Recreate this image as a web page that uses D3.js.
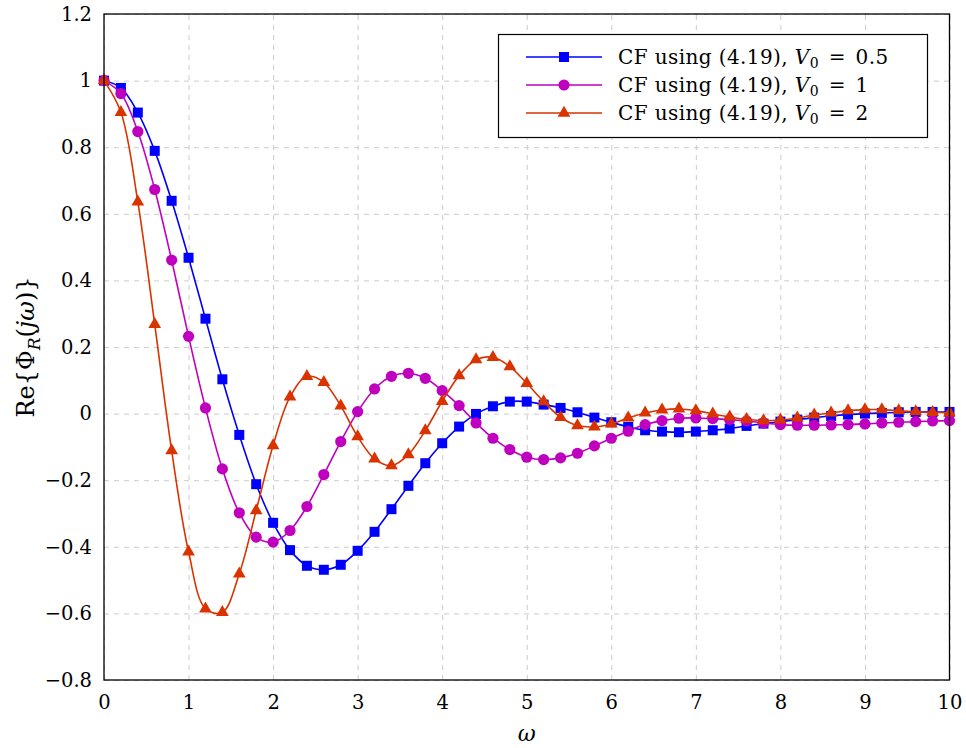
<!DOCTYPE html>
<html>
<head>
<meta charset="utf-8">
<script src="https://cdn.jsdelivr.net/npm/d3@7/dist/d3.min.js"></script>
<style>
  html, body { margin: 0; padding: 0; background: #fff; }
  svg { display: block; }
  text { font-family: "DejaVu Serif", "Liberation Serif", serif; fill: #000; }
</style>
</head>
<body>
<svg id="chart" width="966" height="748"></svg>
<script>
// Angular frequency samples
const omega = [0, 0.2, 0.4, 0.6, 0.8, 1, 1.2, 1.4, 1.6, 1.8, 2, 2.2, 2.4, 2.6, 2.8, 3, 3.2, 3.4, 3.6, 3.8,
  4, 4.2, 4.4, 4.6, 4.8, 5, 5.2, 5.4, 5.6, 5.8, 6, 6.2, 6.4, 6.6, 6.8, 7, 7.2, 7.4, 7.6, 7.8,
  8, 8.2, 8.4, 8.6, 8.8, 9, 9.2, 9.4, 9.6, 9.8, 10];

// Real part of the characteristic function for each V0
const cfV05 = [1.0, 0.978, 0.904, 0.789, 0.639, 0.468, 0.285, 0.103, -0.064, -0.212, -0.328, -0.41, -0.457, -0.469, -0.454,
  -0.412, -0.355, -0.287, -0.217, -0.149, -0.089, -0.039, -0.001, 0.022, 0.036, 0.036, 0.027, 0.017, 0.004, -0.012,
  -0.026, -0.04, -0.05, -0.054, -0.056, -0.054, -0.05, -0.045, -0.037, -0.03, -0.024, -0.018, -0.012, -0.007, -0.003,
  0.0, 0.002, 0.004, 0.005, 0.005, 0.005];

const cfV1 = [1.0, 0.961, 0.847, 0.673, 0.461, 0.232, 0.017, -0.166, -0.298, -0.371, -0.386, -0.351, -0.279, -0.183, -0.084,
  0.006, 0.074, 0.112, 0.121, 0.106, 0.069, 0.024, -0.028, -0.074, -0.108, -0.131, -0.138, -0.133, -0.119, -0.097,
  -0.074, -0.053, -0.033, -0.021, -0.014, -0.013, -0.015, -0.018, -0.022, -0.028, -0.033, -0.035, -0.035, -0.034, -0.033,
  -0.031, -0.028, -0.026, -0.024, -0.022, -0.021];

const cfV2 = [1.0, 0.905, 0.636, 0.268, -0.111, -0.415, -0.586, -0.597, -0.481, -0.291, -0.096, 0.05, 0.112, 0.094, 0.023,
  -0.069, -0.136, -0.156, -0.123, -0.051, 0.037, 0.114, 0.162, 0.169, 0.141, 0.091, 0.036, -0.011, -0.036, -0.04,
  -0.031, -0.013, 0.002, 0.011, 0.014, 0.009, -0.001, -0.01, -0.017, -0.021, -0.019, -0.013, -0.004, 0.002, 0.009,
  0.012, 0.012, 0.009, 0.006, 0.004, 0.002];

const xTicks = [0, 1, 2, 3, 4, 5, 6, 7, 8, 9, 10];
const yTicks = [-0.8, -0.6, -0.4, -0.2, 0, 0.2, 0.4, 0.6, 0.8, 1, 1.2];
const legendValues = ["0.5", "1", "2"];

const series = [
  { values: cfV05, color: "#0000ff", marker: "square", v0: legendValues[0] },
  { values: cfV1,  color: "#bf00bf", marker: "circle", v0: legendValues[1] },
  { values: cfV2,  color: "#d93300", marker: "triangle", v0: legendValues[2] }
];

const W = 966, H = 748;
const margin = { left: 104, right: 16.5, top: 14, bottom: 68 };
const innerW = W - margin.left - margin.right;
const innerH = H - margin.top - margin.bottom;
const FONT = "DejaVu Serif, serif";

const svg = d3.select("#chart");
const g = svg.append("g").attr("transform", `translate(${margin.left},${margin.top})`);

const x = d3.scaleLinear().domain([0, 10]).range([0, innerW]);
const y = d3.scaleLinear().domain([-0.8, 1.2]).range([innerH, 0]);

// Dashed grid
const gridStyle = sel => {
  sel.select(".domain").remove();
  sel.selectAll("text").remove();
  sel.selectAll("line").attr("stroke", "#cccccc").attr("stroke-width", 1).attr("stroke-dasharray", "5,5");
};
g.append("g").attr("transform", `translate(0,${innerH})`)
  .call(d3.axisBottom(x).tickValues(xTicks).tickSize(-innerH)).call(gridStyle);
g.append("g")
  .call(d3.axisLeft(y).tickValues(yTicks).tickSize(-innerW)).call(gridStyle);

// Tick labels
const fmt = d3.format("~g");
const xAxis = g.append("g").attr("transform", `translate(0,${innerH})`)
  .call(d3.axisBottom(x).tickValues(xTicks).tickSize(0).tickPadding(15).tickFormat(fmt));
xAxis.select(".domain").remove();
xAxis.selectAll("text").style("font-size", "19.5px").style("font-family", FONT);

const yAxis = g.append("g")
  .call(d3.axisLeft(y).tickValues(yTicks).tickSize(0).tickPadding(12).tickFormat(fmt));
yAxis.select(".domain").remove();
yAxis.selectAll("text").style("font-size", "19.5px").style("font-family", FONT);

// Clip for curves
svg.append("defs").append("clipPath").attr("id", "plotclip")
  .append("rect").attr("x", -6).attr("y", -6).attr("width", innerW + 12).attr("height", innerH + 12);

const line = d3.line().x((d, i) => x(omega[i])).y(d => y(d)).curve(d3.curveCatmullRom.alpha(0.5));

function drawMarker(sel, type, color) {
  if (type === "square") {
    sel.append("rect").attr("x", -5).attr("y", -5).attr("width", 10).attr("height", 10)
      .attr("fill", color);
  } else if (type === "circle") {
    sel.append("circle").attr("r", 5.6).attr("fill", color);
  } else {
    sel.append("path").attr("d", d3.symbol().type(d3.symbolTriangle).size(70)()).attr("fill", color);
  }
}

const plot = g.append("g").attr("clip-path", "url(#plotclip)");
series.forEach(s => {
  plot.append("path").datum(s.values)
    .attr("fill", "none").attr("stroke", s.color).attr("stroke-width", 1.6)
    .attr("d", line);
  plot.selectAll(null).data(s.values).enter().append("g")
    .attr("transform", (d, i) => `translate(${x(omega[i])},${y(d)})`)
    .each(function () { drawMarker(d3.select(this), s.marker, s.color); });
});

// Frame
g.append("rect").attr("x", 0).attr("y", 0).attr("width", innerW).attr("height", innerH)
  .attr("fill", "none").attr("stroke", "#000").attr("stroke-width", 1.3);

// Axis titles
svg.append("text").attr("x", margin.left + innerW / 2).attr("y", 741)
  .attr("text-anchor", "middle").style("font-size", "22px").style("font-style", "italic").text("ω");

const yl = svg.append("text").attr("transform", `translate(34,${margin.top + innerH / 2}) rotate(-90)`)
  .attr("text-anchor", "middle").style("font-size", "24px");
yl.append("tspan").text("Re{Φ");
yl.append("tspan").attr("font-style", "italic").attr("dy", 6).style("font-size", "17px").text("R");
yl.append("tspan").attr("dy", -6).text("(");
yl.append("tspan").attr("font-style", "italic").text("jω");
yl.append("tspan").text(")}");

// Legend
const lg = svg.append("g");
lg.append("rect").attr("x", 498.5).attr("y", 34.5).attr("width", 429).attr("height", 103)
  .attr("fill", "#fff").attr("stroke", "#000").attr("stroke-width", 1.2);
series.forEach((s, k) => {
  const ry = 57 + k * 28;
  lg.append("line").attr("x1", 526).attr("x2", 602).attr("y1", ry).attr("y2", ry)
    .attr("stroke", s.color).attr("stroke-width", 1.6);
  const m = lg.append("g").attr("transform", `translate(564,${ry})`);
  drawMarker(m, s.marker, s.color);
  const t = lg.append("text").attr("x", 618).attr("y", ry + 7).style("font-size", "20px")
    .style("letter-spacing", "0.4px");
  t.append("tspan").text("CF using (4.19), ");
  t.append("tspan").attr("font-style", "italic").text("V");
  t.append("tspan").attr("dy", 4).style("font-size", "14px").text("0");
  t.append("tspan").attr("dy", -4).attr("dx", 3).text(" =");
  t.append("tspan").attr("dx", 3).text(" " + s.v0);
});
</script>
</body>
</html>
